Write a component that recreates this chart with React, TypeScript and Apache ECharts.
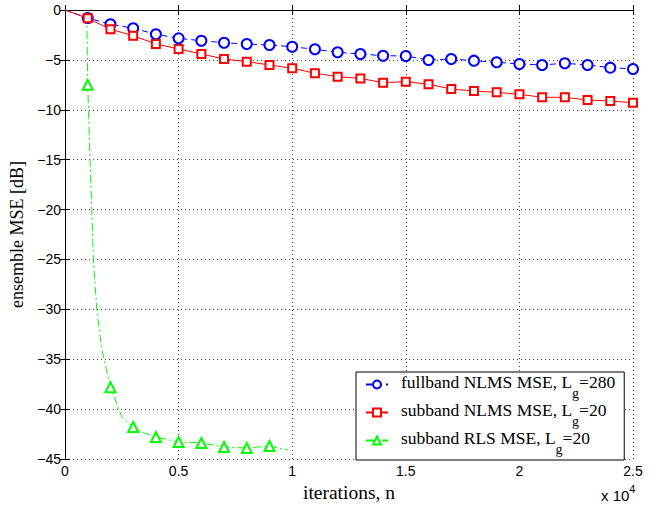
import React, { useEffect, useRef } from "react";
import * as echarts from "echarts";

// ---- data ----
const fullbandX = [0, 1000, 2000, 3000, 4000, 5000, 6000, 7000, 8000, 9000, 10000, 11000, 12000, 13000, 14000, 15000, 16000, 17000, 18000, 19000, 20000, 21000, 22000, 23000, 24000, 25000];
const fullbandY = [0, -0.8, -1.43, -1.83, -2.43, -2.84, -3.08, -3.28, -3.41, -3.51, -3.68, -3.94, -4.24, -4.41, -4.58, -4.61, -5.01, -4.91, -5.08, -5.24, -5.41, -5.51, -5.34, -5.51, -5.78, -5.91];

const subNlmsX = [0, 1000, 2000, 3000, 4000, 5000, 6000, 7000, 8000, 9000, 10000, 11000, 12000, 13000, 14000, 15000, 16000, 17000, 18000, 19000, 20000, 21000, 22000, 23000, 24000, 25000];
const subNlmsY = [0, -0.83, -1.93, -2.58, -3.41, -3.91, -4.41, -4.91, -5.18, -5.51, -5.84, -6.34, -6.68, -6.86, -7.28, -7.18, -7.44, -7.92, -8.12, -8.25, -8.45, -8.75, -8.75, -9.02, -9.12, -9.29];

const rlsX = [960, 1000, 1100, 1180, 1250, 1400, 1620, 2000, 2500, 3000, 3500, 4000, 5000, 6000, 7000, 8000, 9000, 9800];
const rlsY = [-0.5, -7.5, -15, -20, -25, -30, -34, -37.8, -40.8, -41.8, -42.4, -42.8, -43.3, -43.4, -43.8, -43.9, -43.7, -44.1];

const markerStep = 1000;

const legendMain = ["fullband NLMS MSE, L", "subband NLMS MSE, L", "subband RLS MSE, L"];
const legendSub = ["g", "g", "g"];
const legendTail = ["=280", "=20", "=20"];
const seriesNames = legendMain.map((m, i) => m + legendSub[i] + legendTail[i]);

const xTitle = "iterations, n";
const yTitle = "ensemble MSE [dB]";
const xExpBase = "x 10";
const xExpPow = "4";

const colors = ["#0000ff", "#ff0000", "#00ff00"];

function toData(xs: number[], ys: number[]) {
  return xs.map((x, i) => {
    const marked = x > 0 && x % markerStep === 0;
    return marked ? { value: [x, ys[i]] } : { value: [x, ys[i]], symbol: "none" };
  });
}

export default function App() {
  const ref = useRef<HTMLDivElement>(null);
  useEffect(() => {
    document.body.style.margin = "0";
    const chart = echarts.init(ref.current!, null, { renderer: "svg" });
    const sans = "Liberation Sans";
    const serif = "Liberation Serif";
    const fmtY = (v: number) => (v < 0 ? "\u2212" + Math.abs(v) : String(v));
    chart.setOption({
      animation: false,
      backgroundColor: "#fff",
      grid: { left: 65, right: 34, top: 10, bottom: 51, containLabel: false },
      xAxis: [
        {
          type: "value",
          min: 0,
          max: 25000,
          interval: 5000,
          name: xTitle,
          nameLocation: "middle",
          nameGap: 13,
          nameTextStyle: { fontFamily: serif, fontSize: 19.5, color: "#000" },
          axisLine: { show: true, lineStyle: { color: "#000", width: 1 } },
          axisTick: { show: true, inside: true, length: 5, lineStyle: { color: "#000" } },
          axisLabel: { margin: 5, fontFamily: sans, fontSize: 14, color: "#000", formatter: (v: number) => String(v / 10000) },
          splitLine: { show: true, lineStyle: { color: "#444", type: [1, 3], width: 1 } },
        },
        {
          type: "value",
          position: "top",
          min: 0,
          max: 25000,
          interval: 5000,
          axisLine: { show: true, lineStyle: { color: "#000", width: 1 } },
          axisTick: { show: true, inside: true, length: 5, lineStyle: { color: "#000" } },
          axisLabel: { show: false },
          splitLine: { show: false },
        },
      ],
      yAxis: [
        {
          type: "value",
          min: -45,
          max: 0,
          interval: 5,
          name: yTitle,
          nameLocation: "middle",
          nameGap: 30,
          nameTextStyle: { fontFamily: serif, fontSize: 18, color: "#000" },
          axisLine: { show: true, lineStyle: { color: "#000", width: 1 } },
          axisTick: { show: true, inside: true, length: 5, lineStyle: { color: "#000" } },
          axisLabel: { margin: 4, fontFamily: sans, fontSize: 14, color: "#000", formatter: fmtY },
          splitLine: { show: true, lineStyle: { color: "#444", type: [1, 3], width: 1 } },
        },
        {
          type: "value",
          position: "right",
          min: -45,
          max: 0,
          interval: 5,
          axisLine: { show: true, lineStyle: { color: "#000", width: 1 } },
          axisTick: { show: true, inside: true, length: 5, lineStyle: { color: "#000" } },
          axisLabel: { show: false },
          splitLine: { show: false },
        },
      ],
      legend: {
        orient: "vertical",
        left: 356,
        top: 372,
        backgroundColor: "#fff",
        borderColor: "#000",
        borderWidth: 1,
        borderRadius: 0,
        padding: [1, 9, 4, 9],
        itemGap: 1,
        itemWidth: 22,
        itemHeight: 10,
        data: seriesNames,
        formatter: (name: string) => {
          const i = seriesNames.indexOf(name);
          return `{a|${legendMain[i]}}{s|${legendSub[i]}}{t|${legendTail[i]}}`;
        },
        textStyle: {
          fontFamily: serif,
          fontSize: 17.5,
          color: "#000",
          rich: {
            a: { fontFamily: serif, fontSize: 17.5, color: "#000", lineHeight: 23, verticalAlign: "top", padding: [0, 0, 0, 8] },
            s: { fontFamily: serif, fontSize: 14, color: "#000", lineHeight: 10, verticalAlign: "top", padding: [13, 0, 0, 0] },
            t: { fontFamily: serif, fontSize: 17.5, color: "#000", lineHeight: 23, verticalAlign: "top" },
          },
        },
      },
      graphic: [
        {
          type: "text",
          x: 601,
          y: 483,
          style: {
            text: `{a|${xExpBase}}{b|${xExpPow}}`,
            verticalAlign: "top",
            rich: {
              a: { fontFamily: sans, fontSize: 15, color: "#000", lineHeight: 16, padding: [5, 0, 0, 0], verticalAlign: "top" },
              b: { fontFamily: sans, fontSize: 11, color: "#000", lineHeight: 11, verticalAlign: "top" },
            },
          },
        },
      ],
      series: [
        {
          name: seriesNames[0],
          type: "line",
          data: toData(fullbandX, fullbandY),
          symbol: "emptyCircle",
          symbolSize: 10,
          color: colors[0],
          lineStyle: { color: colors[0], width: 1, type: [6, 4] },
          itemStyle: { color: colors[0], borderWidth: 1 },
          z: 3,
        },
        {
          name: seriesNames[1],
          type: "line",
          data: toData(subNlmsX, subNlmsY),
          symbol: "emptyRect",
          symbolSize: 8,
          color: colors[1],
          lineStyle: { color: colors[1], width: 1, type: "solid" },
          itemStyle: { color: colors[1], borderWidth: 1 },
          z: 4,
        },
        {
          name: seriesNames[2],
          type: "line",
          data: toData(rlsX, rlsY),
          symbol: "emptyTriangle",
          symbolSize: 10,
          color: colors[2],
          lineStyle: { color: colors[2], width: 1, type: [8, 3, 2, 3] },
          itemStyle: { color: colors[2], borderWidth: 1 },
          z: 2,
        },
      ],
    });
    return () => chart.dispose();
  }, []);
  return <div ref={ref} style={{ width: 667, height: 510, position: "absolute", left: 0, top: 0 }} />;
}
